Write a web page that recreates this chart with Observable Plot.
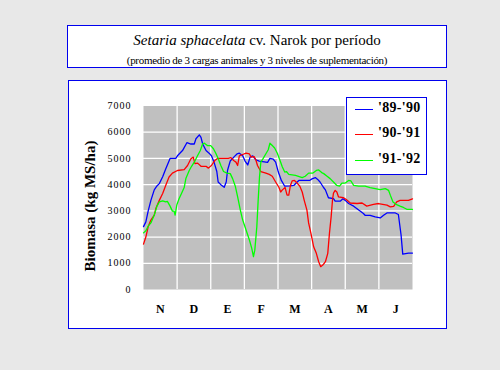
<!DOCTYPE html>
<html><head><meta charset="utf-8">
<script src="https://cdn.jsdelivr.net/npm/d3@7"></script>
<script src="https://cdn.jsdelivr.net/npm/@observablehq/plot@0.6"></script>
<style>
body{margin:0;width:500px;height:370px;background:#e8e8e8;position:relative;overflow:hidden;font-family:"Liberation Serif","DejaVu Serif",serif;}
#tbox{position:absolute;left:67px;top:25px;width:380px;height:43px;box-sizing:border-box;border:1.5px solid #0000ee;background:#fff;}
#t1{position:absolute;left:0;width:100%;top:5px;text-align:center;font-family:"Liberation Serif",serif;font-size:15px;line-height:18px;color:#000;}
#t2{position:absolute;left:0;width:100%;top:28px;text-align:center;font-family:"Liberation Serif",serif;font-size:11px;line-height:12px;color:#000;letter-spacing:-0.3px;}
#cbox{position:absolute;left:68px;top:80px;width:379px;height:249px;box-sizing:border-box;border:1.5px solid #0000ee;background:#fff;}
#plot{position:absolute;left:69px;top:81px;}
#ytitle{position:absolute;left:90px;top:206px;width:0;height:0;}
#ytitle span{position:absolute;transform:translate(-50%,-50%) rotate(-90deg);white-space:nowrap;font-family:"Liberation Serif",serif;font-weight:bold;font-size:15px;line-height:16px;color:#000;}
#legend{position:absolute;left:346px;top:97px;width:81px;height:78px;box-sizing:border-box;border:1.5px solid #0000ee;background:#fff;}
.lrow{position:absolute;left:8px;height:14px;}
.lline{position:absolute;left:0;top:6px;width:18px;height:0;border-top:1.3px solid;}
.ltxt{position:absolute;left:23px;top:-3px;font-family:"Liberation Serif",serif;font-weight:bold;font-size:14px;line-height:16px;white-space:nowrap;letter-spacing:0.3px;}
#plot g[aria-label="y-axis tick label"] text{letter-spacing:1px;}
</style></head>
<body>
<div id="tbox"><div id="t1"><i>Setaria sphacelata</i> cv. Narok por período</div>
<div id="t2">(promedio de 3 cargas animales y 3 niveles de suplementación)</div></div>
<div id="cbox"></div>
<div id="plot"></div>
<div id="ytitle"><span>Biomasa (kg MS/ha)</span></div>
<div id="legend"></div>
<script>
const monthLabels = ["N","D","E","F","M","A","M","J"];
const yTicks = [0,1000,2000,3000,4000,5000,6000,7000];
const seriesNames = ["'89-'90","'90-'91","'91-'92"];
const seriesColors = ["#0000ff","#ff0000","#00ff00"];

// x in months from start of November (0..8), y in kg MS/ha
const s1X = [0.00,0.07,0.14,0.22,0.32,0.40,0.47,0.57,0.66,0.79,0.96,1.01,1.16,1.29,1.41,1.51,1.56,1.66,1.71,1.76,1.86,1.95,2.02,2.10,2.18,2.22,2.30,2.40,2.46,2.50,2.58,2.70,2.78,2.85,2.95,3.02,3.10,3.17,3.25,3.34,3.44,3.69,3.76,3.86,3.93,4.01,4.10,4.20,4.37,4.47,4.57,4.62,4.94,5.01,5.11,5.18,5.25,5.35,5.41,5.50,5.65,5.70,5.85,5.93,6.00,6.10,6.25,6.40,6.54,6.59,6.74,6.89,7.04,7.14,7.24,7.49,7.58,7.66,7.71,7.88,8.00];
const s1Y = [2400,2580,3000,3400,3800,3950,4040,4300,4600,5000,5000,5100,5300,5600,5550,5550,5750,5900,5800,5550,5300,5200,5100,4850,4500,4100,4000,3900,4100,4550,4900,5070,5170,5200,5100,4900,4750,5050,5100,4950,4900,4850,5000,4970,4860,4480,4160,3940,3950,3970,4100,4160,4160,4220,4270,4200,4100,3900,3800,3500,3470,3370,3370,3460,3400,3280,3180,3030,2900,2830,2830,2770,2730,2830,2920,2920,2860,2080,1350,1390,1390];

const s2X = [0.00,0.07,0.14,0.22,0.32,0.37,0.47,0.57,0.66,0.76,0.86,1.01,1.21,1.31,1.41,1.48,1.53,1.61,1.71,1.86,1.93,2.02,2.12,2.20,2.52,2.60,2.68,2.75,2.80,2.85,2.95,3.05,3.15,3.20,3.29,3.34,3.39,3.49,3.64,3.74,3.83,3.93,4.03,4.08,4.13,4.21,4.27,4.32,4.37,4.42,4.49,4.57,4.65,4.72,4.78,4.86,4.91,4.98,5.06,5.14,5.21,5.27,5.34,5.41,5.48,5.53,5.58,5.62,5.65,5.70,5.75,5.80,5.95,6.03,6.15,6.35,6.50,6.64,6.84,6.99,7.24,7.34,7.44,7.53,7.63,7.88,8.00];
const s2Y = [1730,2000,2400,2650,2840,3100,3400,3660,3970,4290,4440,4540,4570,4730,4990,5050,4800,4820,4700,4700,4630,4730,4920,5000,5000,5030,4920,4860,4730,5100,5150,5200,5170,5050,5070,4950,4730,4500,4440,4390,4320,4100,3890,3720,3800,3890,3600,3600,3970,4140,4160,4060,3940,3720,3400,3030,2540,2140,1630,1380,1060,870,940,1060,1380,2140,2770,3400,3680,3780,3720,3530,3500,3430,3300,3280,3300,3180,3250,3280,3220,3150,3170,3340,3400,3400,3460];

const s3X = [0.00,0.07,0.14,0.22,0.32,0.40,0.47,0.57,0.66,0.71,0.79,0.86,0.91,0.94,0.99,1.06,1.13,1.21,1.26,1.36,1.43,1.51,1.61,1.69,1.76,1.81,1.90,2.00,2.08,2.15,2.22,2.30,2.38,2.48,2.58,2.65,2.73,2.80,2.88,2.95,3.05,3.15,3.22,3.27,3.31,3.37,3.41,3.45,3.49,3.56,3.64,3.71,3.76,3.83,3.90,3.98,4.06,4.13,4.20,4.25,4.32,4.52,4.72,4.81,4.91,5.04,5.14,5.21,5.30,5.36,5.46,5.55,5.65,5.75,5.83,5.90,6.00,6.10,6.17,6.25,6.40,6.59,6.74,6.89,7.04,7.19,7.29,7.34,7.42,7.51,7.63,7.73,7.83,8.00];
const s3Y = [2160,2240,2420,2540,2840,3180,3340,3380,3340,3360,3180,2990,2990,2840,3220,3470,3660,3890,4230,4540,4700,4860,5110,5300,5560,5580,5490,5490,5370,5200,5000,4730,4500,4440,4420,4230,3940,3530,3030,2650,2270,1890,1570,1250,1500,2390,3400,4290,4860,5000,5180,5330,5580,5490,5400,5200,4920,4670,4480,4500,4390,4350,4270,4320,4440,4440,4540,4560,4460,4420,4320,4230,4100,3970,3940,4060,4060,4160,4140,3970,3940,3940,3890,3850,3810,3850,3780,3600,3340,3250,3180,3130,3060,3060];

const allX = [s1X, s2X, s3X];
const allY = [s1Y, s2Y, s3Y];
const rows = allX.flatMap((xs, k) => xs.map((x, i) => ({x, y: allY[k][i], s: seriesNames[k]})));

const chart = Plot.plot({
  width: 376, height: 246,
  marginLeft: 74, marginRight: 33, marginTop: 24.5, marginBottom: 38,
  style: {fontFamily: "'Liberation Serif', 'DejaVu Serif', serif", background: "transparent", color: "#000", overflow: "visible"},
  x: {domain: [0, 8]},
  y: {domain: [0, 7000]},
  color: {domain: seriesNames, range: seriesColors},
  marks: [
    Plot.frame({fill: "#c0c0c0", stroke: null}),
    Plot.gridX([1,2,3,4,5,6,7], {stroke: "#fff", strokeOpacity: 1, strokeWidth: 1.3}),
    Plot.gridY(yTicks.filter(d => d > 0 && d < 7000), {stroke: "#fff", strokeOpacity: 1, strokeWidth: 1.3}),
    Plot.axisY(yTicks, {tickSize: 0, tickPadding: 12, fontSize: 10, tickFormat: d3.format("d"), label: null}),
    Plot.axisX(monthLabels.map((_, i) => i + 0.5), {tickSize: 0, tickPadding: 15, fontSize: 12, fontWeight: "bold", tickFormat: d => monthLabels[Math.floor(d)], label: null}),
    Plot.line(rows, {x: "x", y: "y", z: "s", stroke: "s", strokeWidth: 1.3})
  ]
});
document.getElementById("plot").appendChild(chart);

const leg = document.getElementById("legend");
const rowTops = [5, 30, 56];
seriesNames.forEach((n, i) => {
  const r = document.createElement("div");
  r.className = "lrow"; r.style.top = rowTops[i] + "px";
  r.innerHTML = `<div class="lline" style="border-color:${seriesColors[i]}"></div><div class="ltxt">${n}</div>`;
  leg.appendChild(r);
});
</script>
</body></html>
